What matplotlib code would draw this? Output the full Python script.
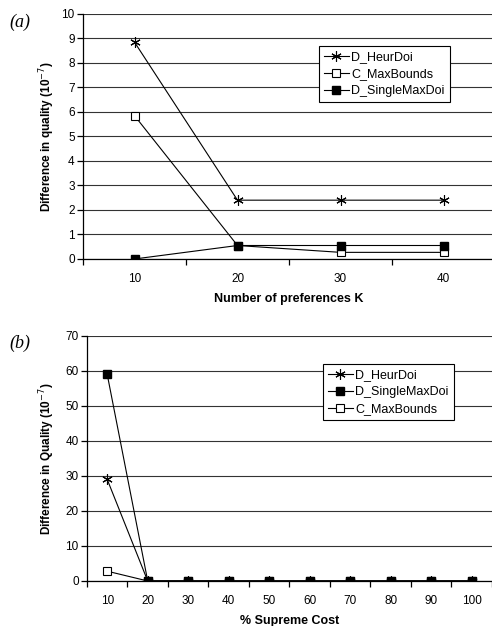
import matplotlib
matplotlib.use('Agg')
import matplotlib.pyplot as plt

plt.rcParams.update({
    'font.family': ['Liberation Sans', 'DejaVu Sans'],
    'font.size': 8.5,
    'axes.linewidth': 0.9,
})

# ---------------------------------------------------------------------------
# Data
# ---------------------------------------------------------------------------
K_VALUES = [10, 20, 30, 40]
A_HEUR = [8.85, 2.4, 2.4, 2.4]
A_MAXB = [5.85, 0.55, 0.27, 0.27]
A_SINGLE = [0.0, 0.55, 0.55, 0.55]

COST_VALUES = [10, 20, 30, 40, 50, 60, 70, 80, 90, 100]
B_HEUR = [29, 0, 0, 0, 0, 0, 0, 0, 0, 0]
B_SINGLE = [59, 0, 0, 0, 0, 0, 0, 0, 0, 0]
B_MAXB = [2.8, 0, 0, 0, 0, 0, 0, 0, 0, 0]

STAR = (6, 2, 0)


def style_axes(ax, xs, ymax, ystep):
    step = xs[1] - xs[0]
    ax.set_xlim(xs[0] - step / 2, xs[-1] + step / 2)
    ax.set_ylim(0, ymax)
    ax.set_xticks(xs)
    ax.set_xticks([x - step / 2 for x in xs] + [xs[-1] + step / 2], minor=True)
    ax.tick_params(axis='x', which='major', length=0, pad=10, labelsize=8.5)
    ax.tick_params(axis='x', which='minor', length=4, width=0.9, direction='out')
    ax.set_yticks(range(0, ymax + 1, ystep))
    ax.tick_params(axis='y', length=4, width=0.9, direction='out', pad=2, labelsize=8.5)
    ax.grid(True, axis='y', color='#333333', linewidth=0.8)
    ax.set_axisbelow(True)
    for side in ('top', 'right'):
        ax.spines[side].set_visible(False)


def add_legend(ax, anchor):
    leg = ax.legend(loc='upper left', bbox_to_anchor=anchor,
                    bbox_transform=ax.figure.transFigure,
                    fancybox=False, edgecolor='black', framealpha=1,
                    handlelength=2.0, handletextpad=0.2, labelspacing=0.4,
                    borderpad=0.4, borderaxespad=0, fontsize=9)
    leg.get_frame().set_linewidth(0.8)


fig = plt.figure(figsize=(4.92, 6.26), dpi=100)
line_kw = dict(color='black', linewidth=0.8)
star_kw = dict(marker=STAR, markersize=7.5, markeredgewidth=0.8)
open_kw = dict(marker='s', markersize=5.5, markerfacecolor='white', markeredgewidth=0.8)
fill_kw = dict(marker='s', markersize=6, markerfacecolor='black')

# ---------------------------------------------------------------------------
# (a)
# ---------------------------------------------------------------------------
ax1 = fig.add_axes([0.1687, 0.5863, 0.8374, 0.3914])
ax1.plot(K_VALUES, A_HEUR, label='D_HeurDoi', zorder=3, **line_kw, **star_kw)
ax1.plot(K_VALUES, A_MAXB, label='C_MaxBounds', zorder=2, **line_kw, **open_kw)
ax1.plot(K_VALUES, A_SINGLE, label='D_SingleMaxDoi', zorder=4, **line_kw, **fill_kw)
style_axes(ax1, K_VALUES, 10, 1)
ax1.set_xlabel('Number of preferences K', fontweight='bold', fontsize=9)
ax1.set_ylabel('Difference in quality (10$^{-7}$)', fontweight='bold', fontsize=8.5)
ax1.yaxis.set_label_coords(-0.063, 0.5)
ax1.xaxis.set_label_coords(0.5, -0.14)
add_legend(ax1, (0.648, 0.9265))
fig.text(0.02, 0.965, '(a)', family=['Liberation Serif'], style='italic',
         fontsize=13, va='center', ha='left')

# ---------------------------------------------------------------------------
# (b)
# ---------------------------------------------------------------------------
ax2 = fig.add_axes([0.1768, 0.0719, 0.823, 0.3914])
ax2.plot(COST_VALUES, B_HEUR, label='D_HeurDoi', zorder=3, **line_kw, **star_kw)
ax2.plot(COST_VALUES, B_SINGLE, label='D_SingleMaxDoi', zorder=4, **line_kw, **fill_kw)
ax2.plot(COST_VALUES, B_MAXB, label='C_MaxBounds', zorder=2, **line_kw, **open_kw)
style_axes(ax2, COST_VALUES, 70, 10)
ax2.set_xlabel('% Supreme Cost', fontweight='bold', fontsize=9)
ax2.set_ylabel('Difference in Quality (10$^{-7}$)', fontweight='bold', fontsize=8.5)
ax2.yaxis.set_label_coords(-0.074, 0.5)
ax2.xaxis.set_label_coords(0.5, -0.138)
add_legend(ax2, (0.6565, 0.4185))
fig.text(0.02, 0.452, '(b)', family=['Liberation Serif'], style='italic',
         fontsize=13, va='center', ha='left')

fig.savefig('out.png', dpi=100)
